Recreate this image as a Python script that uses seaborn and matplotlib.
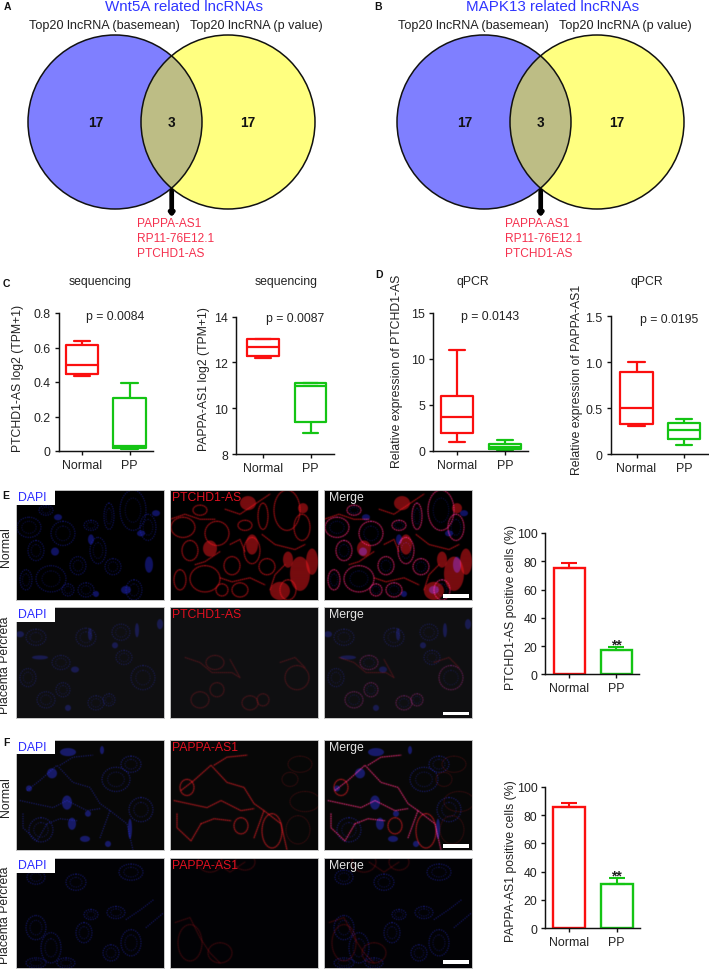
#!/usr/bin/env python3
"""Composite figure: Venn diagrams, box plots, micrographs and bar plots."""

import matplotlib
matplotlib.use("Agg")
import matplotlib.pyplot as plt
from matplotlib.backends.backend_agg import FigureCanvasAgg
from matplotlib.figure import Figure
from matplotlib.patches import Circle, Ellipse, Rectangle
import numpy as np
import pandas as pd
import seaborn as sns

W, H = 709, 970

# data
venn_counts = [17, 3, 17]
venn_genes = ["PAPPA-AS1", "RP11-76E12.1", "PTCHD1-AS"]
groups = ["Normal", "PP"]

# five-number summaries: min, q1, median, q3, max
c1_normal = [0.435, 0.445, 0.50, 0.615, 0.637]
c1_pp = [0.01, 0.02, 0.03, 0.305, 0.395]
c2_normal = [12.2, 12.28, 12.68, 13.02, 13.03]
c2_pp = [8.9, 9.42, 10.95, 11.1, 11.12]
d1_normal = [1.0, 1.9, 3.7, 5.95, 11.0]
d1_pp = [0.1, 0.2, 0.45, 0.75, 1.15]
d2_normal = [0.31, 0.33, 0.505, 0.895, 1.0]
d2_pp = [0.1, 0.17, 0.265, 0.345, 0.385]

e_means = [75, 17]
e_errs = [4, 2]
f_means = [86, 31.5]
f_errs = [2.5, 4]

# micrograph structures, traced by eye: (x, y, rx, ry) in panel pixels
e_top_rings = [(35, 89, 15, 13), (47, 44, 12, 12), (20, 61, 8, 10), (82, 61, 8, 13),
               (62, 76, 8, 9), (97, 77, 8, 8), (117, 21, 13, 20), (132, 38, 8, 13),
               (13, 38, 12, 10), (30, 21, 7, 5), (75, 36, 7, 5), (93, 27, 5, 13),
               (118, 100, 8, 10), (52, 100, 6, 6), (10, 90, 6, 10), (70, 100, 8, 7)]
e_top_strands = [[(0, 30), (15, 25), (30, 30), (45, 30)], [(55, 20), (70, 25), (85, 15), (100, 5)],
                 [(92, 45), (105, 55), (125, 60), (135, 55)], [(60, 55), (70, 50), (75, 62)],
                 [(100, 100), (105, 85), (115, 75)], [(50, 88), (62, 92), (80, 88), (95, 95)],
                 [(25, 75), (35, 72), (50, 62)]]
e_top_blobs = [(110, 101, 10, 9), (130, 84, 10, 17), (78, 14, 8, 7), (40, 59, 7, 8),
               (133, 19, 5, 5), (142, 72, 6, 13), (82, 55, 6, 10), (118, 70, 5, 8)]
e_top_dapi_blobs = [(39, 62, 4, 4), (42, 28, 4, 3), (133, 75, 4, 8), (125, 44, 4, 3),
                    (110, 100, 5, 4), (140, 24, 4, 3), (80, 104, 3, 3), (75, 50, 3, 5)]
e_bot_rings = [(47, 82, 7, 7), (30, 92, 9, 8), (80, 95, 8, 7), (93, 92, 6, 6), (127, 70, 12, 12),
               (45, 55, 9, 7), (20, 30, 10, 8), (70, 30, 10, 9), (105, 25, 9, 8), (12, 70, 8, 9),
               (108, 50, 8, 7)]
e_bot_strands = [[(15, 50), (30, 55), (42, 65), (62, 65), (70, 70), (60, 52)],
                 [(110, 55), (125, 50), (135, 60)]]
e_bot_dapi_blobs = [(59, 62, 4, 3), (74, 27, 2, 6), (121, 23, 2, 7), (99, 38, 3, 3),
                    (24, 50, 8, 2), (4, 27, 4, 3), (144, 17, 3, 5), (52, 100, 3, 3)]

f_top_rings = [(71, 86, 7, 8), (102, 91, 10, 17), (17, 48, 7, 8)]
f_top_strands = [[(11, 51), (24, 41), (41, 26), (57, 43), (74, 48), (84, 64), (94, 71), (111, 84), (117, 110)],
                 [(31, 84), (44, 79), (61, 81)],
                 [(84, 98), (94, 71)],
                 [(44, 26), (57, 18), (77, 16)],
                 [(4, 61), (37, 68), (51, 61), (71, 71), (84, 69)],
                 [(7, 74), (7, 88), (21, 101), (31, 84)]]
f_top_faint = [(130, 25, 12, 8), (135, 62, 15, 10), (120, 40, 8, 7), (128, 90, 12, 14)]
f_top_dapi_blobs = [(36, 34, 5, 5), (52, 13, 8, 4), (51, 63, 5, 7), (72, 74, 3, 3),
                    (56, 84, 4, 6), (69, 99, 5, 3), (114, 89, 2, 10), (86, 11, 2, 4),
                    (13, 49, 3, 3), (92, 104, 3, 3)]
f_top_dapi_rings = [(100, 40, 14, 12), (125, 70, 12, 12), (25, 90, 12, 12), (115, 25, 10, 8)]
f_bot_rings = [(20, 70, 10, 12), (35, 90, 10, 15), (68, 75, 8, 10), (75, 57, 7, 5),
               (115, 85, 10, 13), (95, 95, 8, 8), (60, 25, 10, 8), (115, 15, 12, 8),
               (20, 20, 9, 7), (20, 105, 10, 5), (50, 105, 9, 5), (100, 55, 9, 6)]
f_bot_streaks = [[(110, 62), (125, 52), (138, 42)], [(130, 70), (148, 55)]]
f_bot_red_rings = [(20, 85, 12, 18), (50, 95, 12, 10), (40, 5, 12, 10), (75, 5, 10, 8)]
f_bot_red_strands = [[(5, 65), (20, 60), (30, 80), (40, 95), (50, 105)],
                     [(45, 5), (60, 15), (75, 5)]]

RED = "#fb0f0f"
GREEN = "#14c414"
PINK = "#f5304e"
BLUE_TITLE = "#2f35ff"
TEXT = "#222222"

sns.set_style("ticks")
plt.rcParams["font.family"] = ["Liberation Sans", "DejaVu Sans"]
plt.rcParams["axes.unicode_minus"] = False

fig = plt.figure(figsize=(W / 100, H / 100), dpi=100, facecolor="white")

overlay = fig.add_axes([0, 0, 1, 1], zorder=5)
overlay.set_xlim(0, W)
overlay.set_ylim(H, 0)
overlay.axis("off")


def label(x, y, s, size=8.8, color=TEXT, **kw):
    kw.setdefault("ha", "center")
    kw.setdefault("va", "center")
    overlay.text(x, y, s, fontsize=size, color=color, **kw)


def draw_venn(dx, title):
    """Two overlapping circles, dx is the pixel shift of the panel."""
    r = 87
    cy = 123
    cl = 115 + dx
    cr = 228 + dx
    left = Circle((cl, cy), r, fc="#7f7fff", ec="none")
    right = Circle((cr, cy), r, fc="#ffff80", ec="none")
    overlay.add_patch(left)
    overlay.add_patch(right)
    both = Circle((cl, cy), r, fc="#bdbd85", ec="none")
    overlay.add_patch(both)
    both.set_clip_path(Circle((cr, cy), r, transform=overlay.transData))
    for c in (cl, cr):
        overlay.add_patch(Circle((c, cy), r, fc="none", ec="#111111", lw=1.1))

    label(184 + dx, 7, title, size=10.9, color=BLUE_TITLE)
    label(104.5 + dx, 26, "Top20 lncRNA (basemean)", size=9.1)
    label(256.5 + dx, 26, "Top20 lncRNA (p value)", size=9.1)
    for x, n in zip((96, 171.5, 247.5), venn_counts):
        label(x + dx, 123, str(n), size=9.8, color="#111111", fontweight="bold")

    overlay.annotate("", xy=(171.7 + dx, 218), xytext=(171.7 + dx, 192),
                     arrowprops=dict(arrowstyle="-|>,head_width=0.12,head_length=0.15",
                                     lw=3.4, color="black", shrinkA=0, shrinkB=0))
    for y, gene in zip((224, 239.5, 254), venn_genes):
        label(136.5 + dx, y, gene, size=8.6, color=PINK, ha="left")


def make_axes(x0, x1, ytop, ybot, c0, c1, ylim, yticks, ticklabels):
    """Axes by pixel box, c0 and c1 are the pixel centres of both groups."""
    ax = fig.add_axes([x0 / W, 1 - ybot / H, (x1 - x0) / W, (ybot - ytop) / H])
    ax.set_ylim(*ylim)
    ax.patch.set_alpha(0)
    ax.set_yticks(yticks)
    ax.set_yticklabels(ticklabels)
    return ax


def finish_axes(ax, box, ylabel, lx, ly):
    unit = box[5] - box[4]
    ax.set_xlim((box[0] - box[4]) / unit, (box[1] - box[4]) / unit)
    ax.set_xticks([0, 1])
    ax.set_xticklabels(groups)
    ax.set_xlabel("")
    ax.set_ylabel(ylabel, fontsize=8.8, color=TEXT, va="center")
    ax.yaxis.set_label_coords(lx, ly, transform=overlay.transData)
    ax.tick_params(axis="both", labelsize=8.9, labelcolor=TEXT, length=3.2, width=1.0,
                   color="#111111", pad=2.5)
    sns.despine(ax=ax)
    for side in ("left", "bottom"):
        ax.spines[side].set_linewidth(1.05)
        ax.spines[side].set_color("#111111")


def draw_box(box, normal, pp, ylabel, lx, ly, ylim, yticks, ticklabels):
    ax = make_axes(*box, ylim, yticks, ticklabels)
    df = pd.DataFrame({"group": ["Normal"] * 5 + ["PP"] * 5, "value": normal + pp})
    sns.boxplot(data=df, x="group", y="value", hue="group", order=groups, hue_order=groups,
                palette=[RED, GREEN], fill=False, whis=(0, 100), width=0.67,
                linewidth=1.6, legend=False, ax=ax)
    finish_axes(ax, box, ylabel, lx, ly)


def draw_bar(box, means, errs, ylabel, lx, ly):
    ticks = [0, 20, 40, 60, 80, 100]
    ax = make_axes(*box, (0, 100), ticks, [str(t) for t in ticks])
    df = pd.DataFrame({"group": groups, "value": means})
    sns.barplot(data=df, x="group", y="value", hue="group", order=groups, hue_order=groups,
                palette=[RED, GREEN], fill=False, width=0.67, linewidth=1.7,
                errorbar=None, legend=False, ax=ax)
    for i, colour in enumerate([RED, GREEN]):
        ax.errorbar(i, means[i], yerr=[[0], [errs[i]]], ecolor=colour, elinewidth=1.5,
                    capsize=5.5, capthick=1.5, fmt="none")
    finish_axes(ax, box, ylabel, lx, ly)


def render_channel(color, alpha, rings=(), blobs=(), strands=(), faint=(), dotted=False):
    """Draw one fluorescence channel off screen and blur it a little."""
    off = Figure(figsize=(1.48, 1.10), dpi=300, facecolor="black")
    canvas = FigureCanvasAgg(off)
    ax = off.add_axes([0, 0, 1, 1])
    ax.set_xlim(0, 148)
    ax.set_ylim(110, 0)
    ax.axis("off")
    ls = (0, (0.8, 1.6)) if dotted else (0, (2.5, 0.8))
    lw = 0.7 if dotted else 0.45
    for x, y, rx, ry in rings:
        ax.add_patch(Ellipse((x, y), 2 * rx, 2 * ry, fc="none", ec=color, alpha=alpha, lw=lw, ls=ls))
        if dotted:
            ax.add_patch(Ellipse((x, y), 1.2 * rx, 1.2 * ry, fc="none", ec=color, alpha=alpha * 0.6, lw=lw, ls=ls))
        else:
            ax.add_patch(Ellipse((x, y), 2 * rx, 2 * ry, fc="none", ec=color, alpha=alpha * 0.15, lw=1.6))
    for x, y, rx, ry in faint:
        ax.add_patch(Ellipse((x, y), 2 * rx, 2 * ry, fc="none", ec=color, alpha=alpha * 0.35, lw=lw, ls=ls))
    for x, y, rx, ry in blobs:
        ax.add_patch(Ellipse((x, y), 2 * rx, 2 * ry, fc=color, ec="none", alpha=alpha * 0.55))
    for pts in strands:
        xs = [p[0] for p in pts]
        ys = [p[1] for p in pts]
        ax.plot(xs, ys, color=color, alpha=alpha, lw=lw, ls=ls)
        if not dotted:
            ax.plot(xs, ys, color=color, alpha=alpha * 0.15, lw=1.6)
    canvas.draw()
    img = np.asarray(canvas.buffer_rgba())[:, :, :3] / 255.0
    kernel = np.array([1, 2, 3, 2, 1]) / 9.0
    for axis in (0, 1):
        img = np.apply_along_axis(lambda v: np.convolve(v, kernel, mode="same"), axis, img)
    return img


def panel_row(ytop, ybot, bg, marker, dapi, red, bar_gap=6):
    """One row of three micrographs: DAPI, marker channel and their merge."""
    blue_img = render_channel(**dapi)
    red_img = render_channel(**red)
    images = [blue_img, red_img, blue_img + red_img]
    for x0, img in zip((16, 170, 324), images):
        ax = fig.add_axes([x0 / W, 1 - ybot / H, 147.7 / W, (ybot - ytop) / H], zorder=2)
        ax.imshow(np.clip(img + np.array(bg), 0, 1), aspect="auto", interpolation="antialiased")
        ax.set_xticks([])
        ax.set_yticks([])
        for s in ax.spines.values():
            s.set_color("#c4c4c4")
            s.set_linewidth(0.7)

    overlay.add_patch(Rectangle((16, ytop), 39, 14.5, fc="white", ec="none"))
    label(32, ytop + 7, "DAPI", size=8.8, color="#2a2aff")
    label(171.7, ytop + 7, marker, size=8.8, color="#e01020", ha="left")
    label(328.5, ytop + 7, "Merge", size=8.8, color="#e4e4e4", ha="left")
    overlay.add_patch(Rectangle((443, ybot - bar_gap), 26, 3.6, fc="white", ec="none"))


# panels A and B
draw_venn(0, "Wnt5A related lncRNAs")
draw_venn(369, "MAPK13 related lncRNAs")

# panels C and D
draw_box((58.7, 153.3, 314, 452, 81.7, 129.5), c1_normal, c1_pp, "PTCHD1-AS log2 (TPM+1)", 18, 378.5,
         (0, 0.8), [0, 0.2, 0.4, 0.6, 0.8], ["0", "0.2", "0.4", "0.6", "0.8"])
draw_box((236, 334, 317.7, 455, 263, 310.5), c2_normal, c2_pp, "PAPPA-AS1 log2 (TPM+1)", 204, 379,
         (8, 14), [8, 10, 12, 14], ["8", "10", "12", "14"])
draw_box((433, 528, 313.7, 451.7, 457, 505), d1_normal, d1_pp, "Relative expression of PTCHD1-AS", 397, 371.7,
         (0, 15), [0, 5, 10, 15], ["0", "5", "10", "15"])
draw_box((610.7, 708, 317.3, 455.3, 636.5, 684.3), d2_normal, d2_pp, "Relative expression of PAPPA-AS1", 577.3, 379.5,
         (0, 1.5), [0, 0.5, 1.0, 1.5], ["0", "0.5", "1.0", "1.5"])

for x, s in ((100, "sequencing"), (285.7, "sequencing"), (473, "qPCR"), (647.3, "qPCR")):
    label(x, 282, s, size=8.8)
for x, y, s in ((114.7, 317, "p = 0.0084"), (295, 319, "p = 0.0087"),
                (489.7, 317, "p = 0.0143"), (668.7, 320, "p = 0.0195")):
    label(x, y, s, size=8.8)

# panels E and F
DAPI = "#2a32ff"
CY3 = "#ff1a22"
panel_row(491, 601.3, (0, 0, 0), "PTCHD1-AS",
          dict(color=DAPI, alpha=0.7, rings=e_top_rings, blobs=e_top_dapi_blobs, dotted=True),
          dict(color=CY3, alpha=0.85, rings=e_top_rings, blobs=e_top_blobs, strands=e_top_strands))
panel_row(608.3, 718.7, (0.06, 0.06, 0.07), "PTCHD1-AS",
          dict(color=DAPI, alpha=0.45, rings=e_bot_rings, blobs=e_bot_dapi_blobs, dotted=True),
          dict(color=CY3, alpha=0.3, rings=e_bot_rings[:6], strands=e_bot_strands))
panel_row(740.7, 851, (0.03, 0.03, 0.03), "PAPPA-AS1",
          dict(color=DAPI, alpha=0.7, rings=f_top_dapi_rings, blobs=f_top_dapi_blobs, strands=f_top_strands, dotted=True),
          dict(color=CY3, alpha=0.85, rings=f_top_rings, strands=f_top_strands, faint=f_top_faint))
panel_row(859, 969.3, (0.01, 0.01, 0.02), "PAPPA-AS1",
          dict(color=DAPI, alpha=0.7, rings=f_bot_rings, strands=f_bot_streaks, dotted=True),
          dict(color=CY3, alpha=0.3, rings=f_bot_red_rings, strands=f_bot_red_strands), bar_gap=8)

draw_bar((545.3, 638.7, 534, 675.3, 569.3, 616.3), e_means, e_errs, "PTCHD1-AS positive cells (%)", 510.7, 608)
draw_bar((545.3, 640, 787.7, 929.3, 569.3, 616.7), f_means, f_errs, "PAPPA-AS1 positive cells (%)", 510.7, 860.7)
label(616, 645, "**", size=10, fontweight="bold")
label(616, 876, "**", size=10, fontweight="bold")

# row labels
for y, s in ((547.5, "Normal"), (665, "Placenta Percreta"), (796.7, "Normal"), (915, "Placenta Percreta")):
    label(5.5, y, s, size=8.8, rotation=90)

# panel letters
for x, y, s in ((7, 6.5, "A"), (378, 6.5, "B"), (6.5, 284, "C"), (379, 275, "D"), (6, 495.7, "E"), (6, 743, "F")):
    label(x, y, s, size=7.5, color="#111111", fontweight="bold")

fig.savefig("out.png", dpi=100, facecolor="white")
